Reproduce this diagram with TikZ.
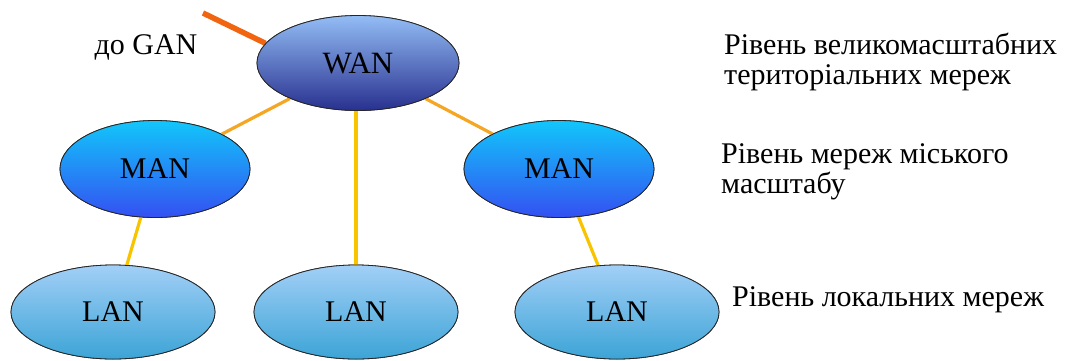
\documentclass[tikz,border=0pt]{standalone}
\usepackage{fontspec}
\setmainfont{Liberation Serif}
\usetikzlibrary{shapes.geometric}
\definecolor{linkA}{HTML}{F5A623}
\definecolor{linkB}{HTML}{F8C400}
\definecolor{ganc}{HTML}{F26510}
\definecolor{wanT}{HTML}{93BDF5}
\definecolor{wanB}{HTML}{28308F}
\definecolor{manT}{HTML}{12C6FA}
\definecolor{manB}{HTML}{3450F2}
\definecolor{lanT}{HTML}{A2CFF7}
\definecolor{lanB}{HTML}{3CA4D6}
\begin{document}
\begin{tikzpicture}[x=1pt,y=-1pt,
  net/.style={ellipse,draw=black!85,line width=0.8pt,inner sep=0pt,
    font=\fontsize{30}{30}\selectfont},
  wan/.style={net,minimum width=202pt,minimum height=95pt,top color=wanT,bottom color=wanB,font=\fontsize{31}{31}\selectfont},
  man/.style={net,minimum width=190pt,minimum height=97pt,top color=manT,bottom color=manB},
  lan/.style={net,minimum width=204pt,minimum height=94pt,top color=lanT,bottom color=lanB},
  link/.style={line width=3.2pt},
  lbl/.style={anchor=west,align=left,inner sep=0pt,font=\fontsize{30}{30}\selectfont}
]
\useasboundingbox (0,0) rectangle (1068,360);
\coordinate (gan) at (203,13);
\node[wan] (W) at (358,63) {WAN};
\node[man] (M1) at (155,169) {MAN};
\node[man] (M2) at (559,169) {MAN};
\node[lan] (L1) at (113,312) {LAN};
\node[lan] (L2) at (356,312) {LAN};
\node[lan] (L3) at (617,312) {LAN};
\draw[line width=5.5pt,ganc] (gan) -- (W.168);
\draw[link,linkA] (W) -- (M1);
\draw[link,linkA] (W) -- (M2);
\draw[link,linkB] (L2.north) -- (L2.north |- W.south);
\draw[link,linkB] (M1) -- (L1);
\draw[link,linkB] (M2) -- (L3);
% redraw nodes on top of links
\node[wan] at (W) {WAN};
\node[man] at (M1) {MAN};
\node[man] at (M2) {MAN};
\node[lan] at (L1) {LAN};
\node[lan] at (L2) {LAN};
\node[lan] at (L3) {LAN};
\node[font=\fontsize{30}{30}\selectfont,inner sep=0pt] (gant) at (146,47) {до GAN};
\node[lbl] (t1) at (724,62) {Рівень великомасштабних\\територіальних мереж};
\node[lbl] (t2) at (721,172) {Рівень мереж міського\\масштабу};
\node[lbl] (t3) at (732,300) {Рівень локальних мереж};
\end{tikzpicture}
\end{document}
